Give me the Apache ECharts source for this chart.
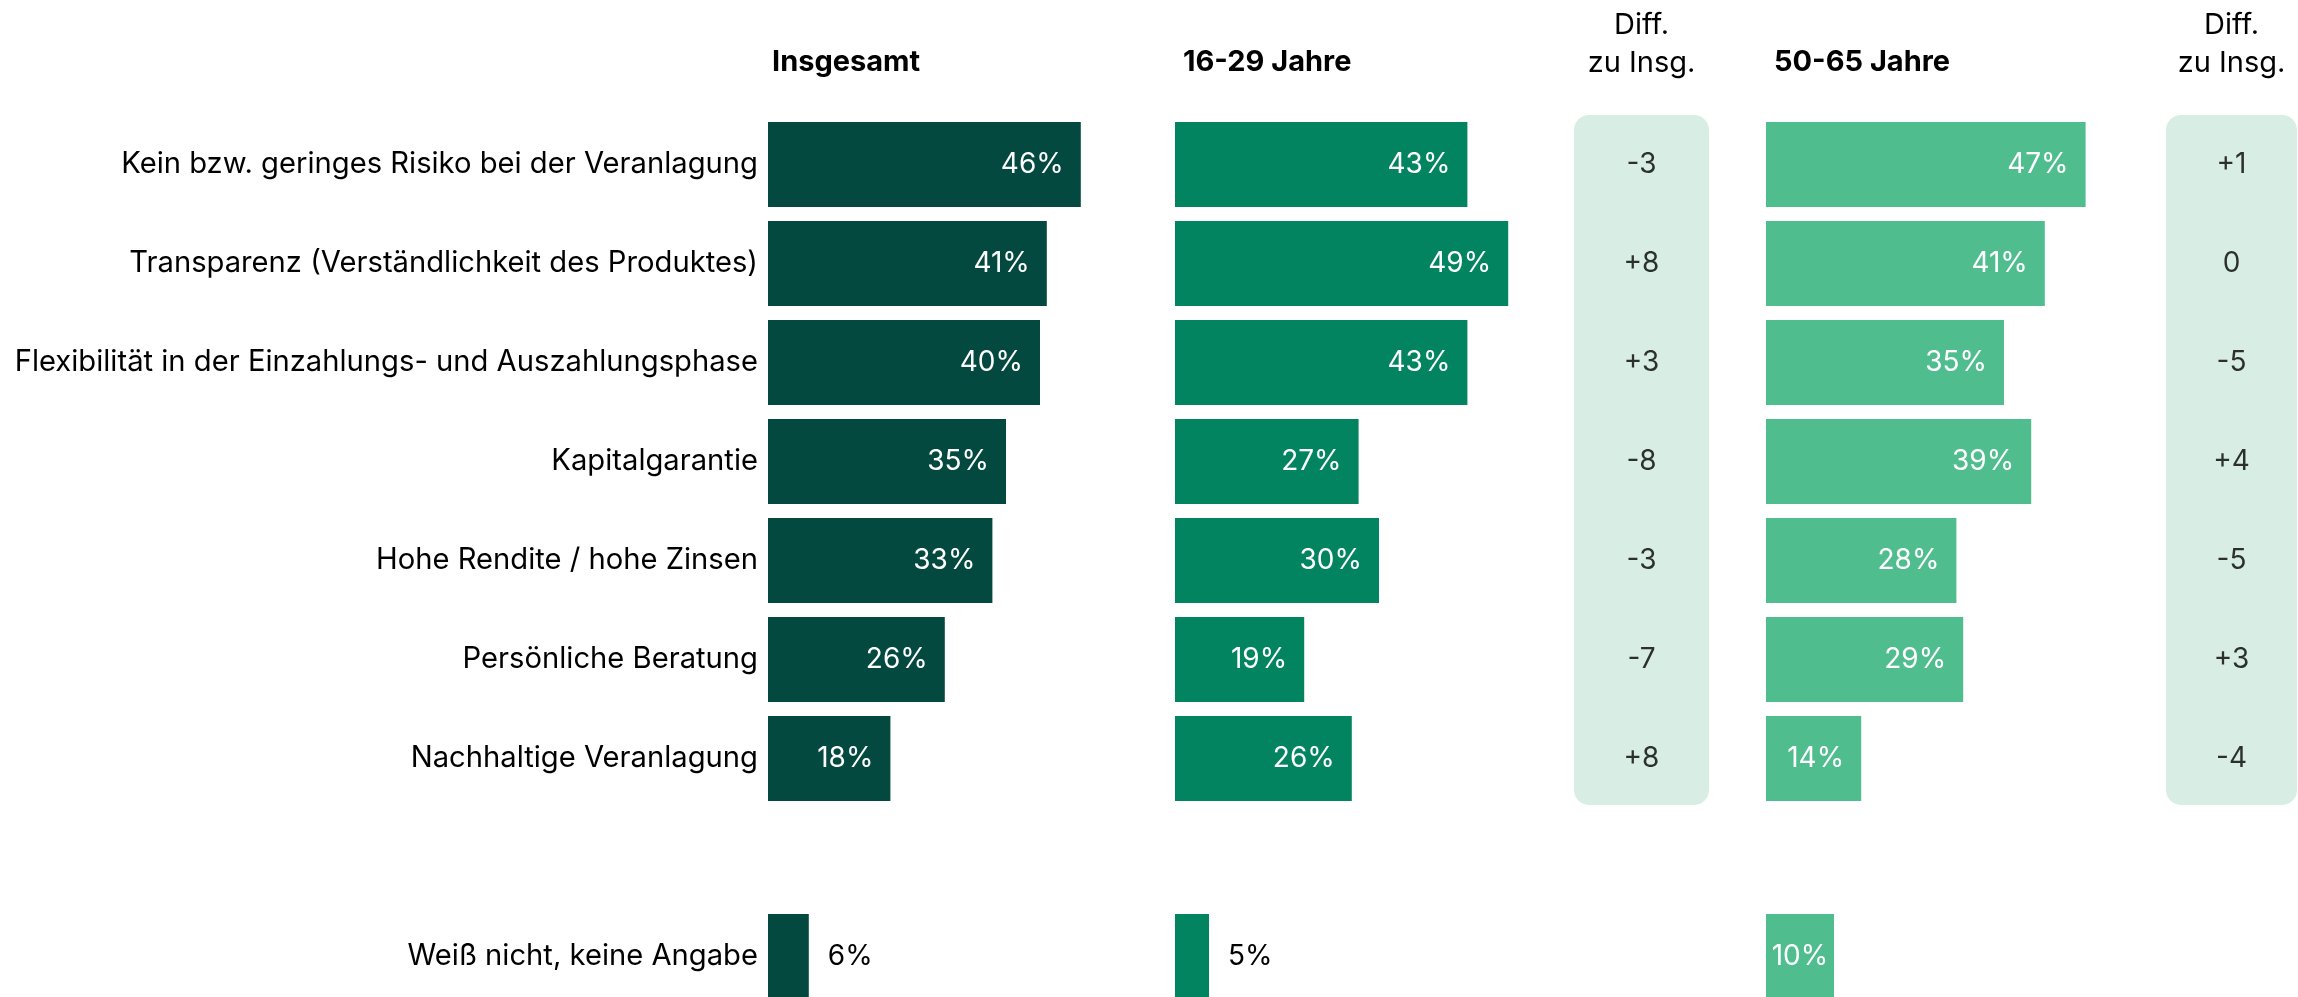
<!DOCTYPE html>
<html>
<head>
<meta charset="utf-8">
<script src="https://cdn.jsdelivr.net/npm/echarts@6/dist/echarts.min.js"></script>
<style>
  html, body { margin: 0; padding: 0; background: #fff; }
  #chart { width: 2298px; height: 997px; }
</style>
</head>
<body>
<div id="chart"></div>
<script>
// Kategorien (leere Zeile als Abstand vor "Weiß nicht")
const categories = [
  'Kein bzw. geringes Risiko bei der Veranlagung',
  'Transparenz (Verständlichkeit des Produktes)',
  'Flexibilität in der Einzahlungs- und Auszahlungsphase',
  'Kapitalgarantie',
  'Hohe Rendite / hohe Zinsen',
  'Persönliche Beratung',
  'Nachhaltige Veranlagung',
  '',
  'Weiß nicht, keine Angabe'
];
const insgesamt = [46, 41, 40, 35, 33, 26, 18];
const jahre1629 = [43, 49, 43, 27, 30, 19, 26];
const jahre5065 = [47, 41, 35, 39, 28, 29, 14];
const diff1629 = ['-3', '+8', '+3', '-8', '-3', '-7', '+8'];
const diff5065 = ['+1', '0', '-5', '+4', '-5', '+3', '-4'];
// Weiß nicht, keine Angabe: Insgesamt, 16-29, 50-65
const weissNicht = [6, 5, 10];
const headers = ['Insgesamt', '16-29 Jahre', '50-65 Jahre'];

const FONT = 'Inter';
const colors = ['#03493F', '#038461', '#50BD8F'];
const boxColor = '#D8EDE3';

const outsideLabel = { position: 'right', distance: 19, color: '#000' };
const centerLabel = { position: 'inside' };

function buildData(vals, wn, wnLabel) {
  return vals.concat(['-', { value: wn, label: wnLabel }]);
}

let chart = echarts.init(document.getElementById('chart'));

const gridTop = 115, gridHeight = 891;
const barLeft = [768, 1175, 1766];
const diffLeft = [1574, 2166], diffWidth = [135, 131];

let grids = [], xAxes = [], yAxes = [], series = [];

barLeft.forEach((l, i) => {
  grids.push({ left: l, top: gridTop, width: 340, height: gridHeight, outerBoundsMode: 'none' });
});
diffLeft.forEach((l, i) => {
  grids.push({ left: l, top: gridTop, width: diffWidth[i], height: gridHeight, outerBoundsMode: 'none' });
});

for (let g = 0; g < 5; g++) {
  xAxes.push({
    type: 'value', gridIndex: g, min: 0, max: g < 3 ? 50 : 1, show: false
  });
  yAxes.push({
    type: 'category', gridIndex: g, data: categories, inverse: true,
    show: g === 0,
    axisLine: { show: false }, axisTick: { show: false },
    axisLabel: { show: g === 0, fontSize: 29.2, fontFamily: FONT, color: '#000', margin: 10 }
  });
}

const barSets = [
  buildData(insgesamt, weissNicht[0], outsideLabel),
  buildData(jahre1629, weissNicht[1], outsideLabel),
  buildData(jahre5065, weissNicht[2], centerLabel)
];

barSets.forEach((d, i) => {
  series.push({
    type: 'bar', xAxisIndex: i, yAxisIndex: i, data: d,
    barWidth: 85,
    itemStyle: { color: colors[i] },
    label: {
      show: true, position: 'insideRight', distance: 17,
      formatter: '{c}%', color: '#fff', fontSize: 28, fontFamily: FONT
    }
  });
});

[diff1629, diff5065].forEach((d, i) => {
  series.push({
    type: 'scatter', xAxisIndex: 3 + i, yAxisIndex: 3 + i, z: 5,
    symbolSize: 1, itemStyle: { color: 'rgba(0,0,0,0)' },
    data: d.map((v, k) => ({ name: v, value: [0.5, k] })),
    label: {
      show: true, position: 'inside', formatter: p => p.name,
      color: '#000', fontSize: 28, fontFamily: FONT
    }
  });
});

const headerX = [772, 1183, 1774];
let graphics = [];
diffLeft.forEach((l, i) => {
  graphics.push({
    type: 'rect', z: 0,
    shape: { x: l, y: 115, width: diffWidth[i], height: 690, r: 15 },
    style: { fill: boxColor }
  });
  let cx = l + diffWidth[i] / 2;
  graphics.push({
    type: 'text', x: cx, y: 25,
    style: { text: 'Diff.', font: '29px ' + FONT, fill: '#000', textAlign: 'center', textVerticalAlign: 'middle' }
  });
  graphics.push({
    type: 'text', x: cx, y: 63,
    style: { text: 'zu Insg.', font: '29px ' + FONT, fill: '#000', textAlign: 'center', textVerticalAlign: 'middle' }
  });
});
headers.forEach((h, i) => {
  graphics.push({
    type: 'text', x: headerX[i], y: 62,
    style: { text: h, font: 'bold 29px ' + FONT, fill: '#000', textAlign: 'left', textVerticalAlign: 'middle' }
  });
});

chart.setOption({
  animation: false,
  backgroundColor: '#fff',
  grid: grids,
  xAxis: xAxes,
  yAxis: yAxes,
  series: series,
  graphic: graphics
});
</script>
</body>
</html>
